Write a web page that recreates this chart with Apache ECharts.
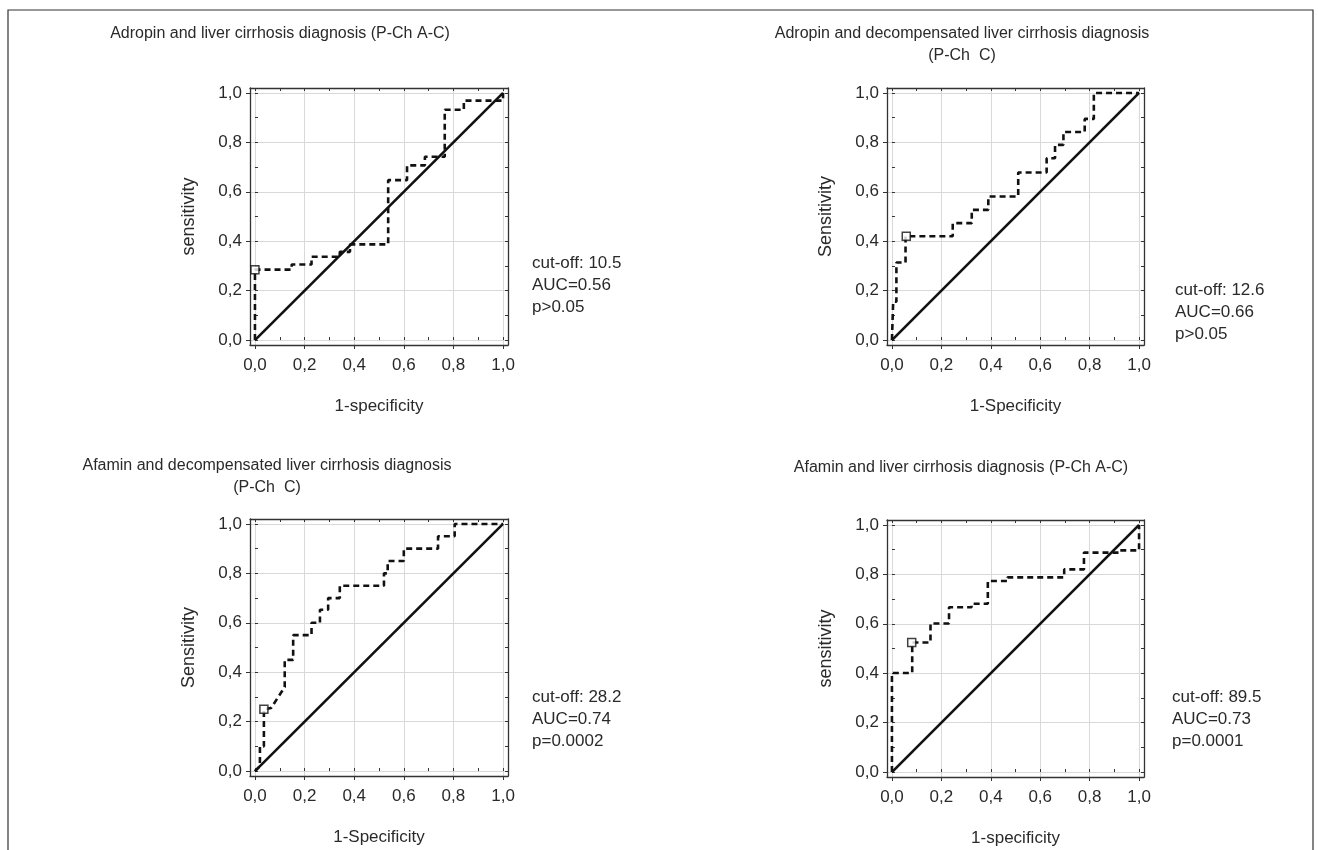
<!DOCTYPE html>
<html><head><meta charset="utf-8">
<script src="https://cdn.jsdelivr.net/npm/echarts@6/dist/echarts.min.js"></script>
<style>html,body{margin:0;padding:0;background:#fff}#c{width:1318px;height:850px}</style>
</head><body><div id="c"></div>
<script>
// ---- data ----
const majorTicks = [0, 0.2, 0.4, 0.6, 0.8, 1.0];
const minorTicks = [0, 0.1, 0.2, 0.3, 0.4, 0.5, 0.6, 0.7, 0.8, 0.9, 1.0];
const diagonal = [[0, 0], [1, 1]];

const roc1 = [[0,0],[0,0.285],[0.148,0.285],[0.148,0.306],[0.228,0.306],[0.228,0.337],[0.342,0.337],[0.342,0.357],[0.383,0.357],[0.383,0.387],[0.537,0.387],[0.537,0.647],[0.613,0.647],[0.613,0.707],[0.685,0.707],[0.685,0.742],[0.765,0.742],[0.765,0.932],[0.842,0.932],[0.842,0.969],[1,0.969],[1,1]];
const cut1 = [0, 0.285];
const roc2 = [[0,0],[0.005,0],[0.005,0.155],[0.018,0.155],[0.018,0.314],[0.055,0.314],[0.055,0.42],[0.246,0.42],[0.246,0.473],[0.323,0.473],[0.323,0.527],[0.39,0.527],[0.39,0.581],[0.511,0.581],[0.511,0.678],[0.626,0.678],[0.626,0.736],[0.66,0.736],[0.66,0.79],[0.694,0.79],[0.694,0.842],[0.78,0.842],[0.78,0.895],[0.817,0.895],[0.817,1],[1,1]];
const cut2 = [0.058, 0.42];
const roc3 = [[0,0],[0.02,0.02],[0.02,0.1],[0.036,0.1],[0.036,0.25],[0.065,0.255],[0.12,0.34],[0.12,0.45],[0.154,0.45],[0.154,0.55],[0.228,0.55],[0.228,0.6],[0.262,0.6],[0.262,0.653],[0.295,0.653],[0.295,0.7],[0.342,0.7],[0.342,0.75],[0.52,0.75],[0.52,0.8],[0.535,0.8],[0.535,0.85],[0.6,0.85],[0.6,0.9],[0.738,0.9],[0.738,0.95],[0.805,0.95],[0.805,1],[1,1]];
const cut3 = [0.036, 0.25];
const roc4 = [[0,0],[0,0.401],[0.082,0.401],[0.082,0.524],[0.156,0.524],[0.156,0.601],[0.231,0.601],[0.231,0.667],[0.322,0.667],[0.322,0.681],[0.388,0.681],[0.388,0.773],[0.468,0.773],[0.468,0.788],[0.697,0.788],[0.697,0.82],[0.777,0.82],[0.777,0.888],[0.92,0.888],[0.92,0.897],[1,0.897],[1,1]];
const cut4 = [0.08, 0.524];

const titles = [
  ['Adropin and liver cirrhosis diagnosis (P-Ch A-C)'],
  ['Adropin and decompensated liver cirrhosis diagnosis', '(P-Ch  C)'],
  ['Afamin and decompensated liver cirrhosis diagnosis', '(P-Ch  C)'],
  ['Afamin and liver cirrhosis diagnosis (P-Ch A-C)']
];
const xNames = ['1-specificity', '1-Specificity', '1-Specificity', '1-specificity'];
const yNames = ['sensitivity', 'Sensitivity', 'Sensitivity', 'sensitivity'];
const notes = [
  ['cut-off: 10.5', 'AUC=0.56', 'p>0.05'],
  ['cut-off: 12.6', 'AUC=0.66', 'p>0.05'],
  ['cut-off: 28.2', 'AUC=0.74', 'p=0.0002'],
  ['cut-off: 89.5', 'AUC=0.73', 'p=0.0001']
];
const rocs = [roc1, roc2, roc3, roc4];
const cuts = [cut1, cut2, cut3, cut4];

// ---- layout ----
const FONT = 'Liberation Sans, Arial, sans-serif';
const TXT = '#2a2a2a';
const grids = [
  {left: 250, top: 88, width: 258, height: 257},
  {left: 887, top: 88, width: 257, height: 257},
  {left: 250, top: 519, width: 258, height: 257},
  {left: 887, top: 520, width: 257, height: 257}
];
const titlePos = [[280, 34], [962, 34], [267, 466], [961, 468]];
const notePos = [[532, 263], [1175, 290], [532, 697], [1172, 697]];
const PAD = 0.02;
const fmt = v => v.toFixed(1).replace('.', ',');

const xAxes = [], yAxes = [], series = [], graphics = [];
grids.forEach((g, i) => {
  const common = {type: 'value', gridIndex: i, min: -PAD, max: 1 + PAD};
  const lineStyle = {show: true, onZero: false, lineStyle: {color: '#333', width: 1.3}};
  xAxes.push(Object.assign({}, common, {
    position: 'bottom', axisLine: lineStyle,
    axisTick: {show: true, inside: false, length: 4, customValues: majorTicks, lineStyle: {color: '#333'}},
    axisLabel: {show: true, customValues: majorTicks, formatter: fmt, fontSize: 17, color: TXT, fontFamily: FONT, margin: 12},
    splitLine: {show: true, lineStyle: {color: '#d9d9d9', width: 1}},
    name: xNames[i], nameLocation: 'middle', nameGap: 53,
    nameTextStyle: {fontSize: 17, color: TXT, fontFamily: FONT}
  }));
  xAxes.push(Object.assign({}, common, {
    position: 'bottom', axisLine: {show: false},
    axisTick: {show: true, inside: true, length: 3, customValues: minorTicks, lineStyle: {color: '#333'}},
    axisLabel: {show: false}, splitLine: {show: false}
  }));
  xAxes.push(Object.assign({}, common, {
    position: 'top', axisLine: lineStyle,
    axisTick: {show: true, inside: true, length: 3, customValues: minorTicks, lineStyle: {color: '#333'}},
    axisLabel: {show: false}, splitLine: {show: false}
  }));
  yAxes.push(Object.assign({}, common, {
    position: 'left', axisLine: lineStyle,
    axisTick: {show: true, inside: false, length: 4, customValues: majorTicks, lineStyle: {color: '#333'}},
    axisLabel: {show: true, customValues: majorTicks, formatter: fmt, fontSize: 17, color: TXT, fontFamily: FONT, margin: 8},
    splitLine: {show: true, lineStyle: {color: '#d9d9d9', width: 1}},
    name: yNames[i], nameLocation: 'middle', nameGap: 52,
    nameTextStyle: {fontSize: 18, color: TXT, fontFamily: FONT}
  }));
  yAxes.push(Object.assign({}, common, {
    position: 'left', axisLine: {show: false},
    axisTick: {show: true, inside: true, length: 3, customValues: minorTicks, lineStyle: {color: '#333'}},
    axisLabel: {show: false}, splitLine: {show: false}
  }));
  yAxes.push(Object.assign({}, common, {
    position: 'right', axisLine: lineStyle,
    axisTick: {show: true, inside: true, length: 3, customValues: minorTicks, lineStyle: {color: '#333'}},
    axisLabel: {show: false}, splitLine: {show: false}
  }));
  const xi = i * 3, yi = i * 3;
  series.push({
    type: 'line', xAxisIndex: xi, yAxisIndex: yi, data: diagonal, symbol: 'none', silent: true,
    lineStyle: {color: '#111', width: 2.6}, z: 3
  });
  series.push({
    type: 'line', xAxisIndex: xi, yAxisIndex: yi, data: rocs[i], symbol: 'none', silent: true,
    lineStyle: {color: '#111', width: 2.6, type: [6, 4]}, z: 4
  });
  series.push({
    type: 'scatter', xAxisIndex: xi, yAxisIndex: yi, data: [cuts[i]], symbol: 'rect', symbolSize: 8,
    itemStyle: {color: '#fff', borderColor: '#111', borderWidth: 1.5}, z: 5, silent: true
  });
  titles[i].forEach((t, k) => {
    graphics.push({type: 'text', x: titlePos[i][0], y: titlePos[i][1] + k * 22,
      style: {text: t, fill: TXT, font: '16px ' + FONT, textAlign: 'center', textVerticalAlign: 'middle'}});
  });
  notes[i].forEach((t, k) => {
    graphics.push({type: 'text', x: notePos[i][0], y: notePos[i][1] + k * 22,
      style: {text: t, fill: TXT, font: '17px ' + FONT, textAlign: 'left', textVerticalAlign: 'middle'}});
  });
});
graphics.push({type: 'rect', shape: {x: 8, y: 10, width: 1305, height: 860},
  style: {fill: 'none', stroke: '#333', lineWidth: 1.2}, silent: true});

const chart = echarts.init(document.getElementById('c'), null, {renderer: 'canvas'});
chart.setOption({
  animation: false,
  backgroundColor: '#fff',
  grid: grids,
  xAxis: xAxes,
  yAxis: yAxes,
  series: series,
  graphic: graphics
});
</script>
</body></html>
